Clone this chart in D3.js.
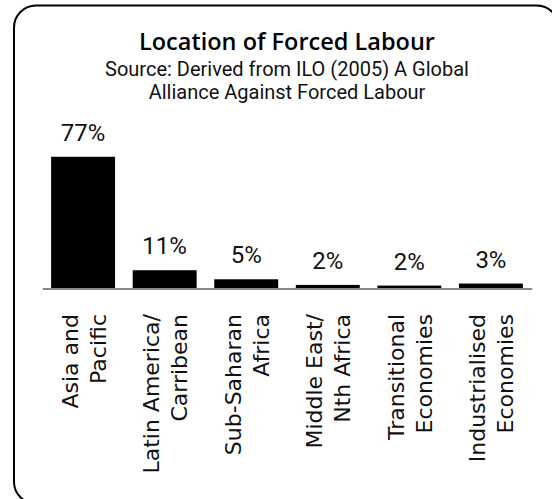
<!DOCTYPE html>
<html><head><meta charset="utf-8">
<script src="https://cdn.jsdelivr.net/npm/d3@7"></script>
<style>html,body{margin:0;padding:0;background:#fff;overflow:hidden;width:552px;height:499px}svg{display:block;overflow:hidden}</style>
</head><body>
<svg id="chart" width="552" height="499" viewBox="0 0 552 499"></svg>
<script>
const categories = ["Asia and|Pacific","Latin America/|Carribean","Sub-Saharan|Africa","Middle East/|Nth Africa","Transitional|Economies","Industrialised|Economies"];
const values = [77.2, 10.7, 5.4, 2.1, 1.7, 2.9];
const valueLabels = ["77%","11%","5%","2%","2%","3%"];
const titleText = "Location of Forced Labour";
const subtitleLines = ["Source: Derived from ILO (2005) A Global","Alliance Against Forced Labour"];

const svg = d3.select("#chart");

// frame: left and top edges with rounded corners; right and bottom edges run off the canvas
const r = 22, L = 14, T = 5.5, R = 558.7, B = 503.7;
const framePath = d3.path();
framePath.moveTo(L + r, B);
framePath.arcTo(L, B, L, B - r, r);
framePath.lineTo(L, T + r);
framePath.arcTo(L, T, L + r, T, r);
framePath.lineTo(R - r, T);
framePath.arcTo(R, T, R, T + r, r);
framePath.lineTo(R, B - r);
svg.append("path").attr("d", framePath.toString())
  .attr("fill","none").attr("stroke","#000").attr("stroke-width",2);

const cx = 287;
svg.append("text").attr("x",cx).attr("y",50).attr("text-anchor","middle")
  .style("font-family","'Open Sans'").style("font-weight","600").style("font-size","23.5px")
  .text(titleText);
svg.selectAll("text.sub").data(subtitleLines).enter().append("text").attr("class","sub")
  .attr("x",cx).attr("y",(d,i)=>75.5+i*23.5).attr("text-anchor","middle")
  .style("font-family","Roboto").style("font-size","20px").attr("fill","#111")
  .text(d=>d);

const x = d3.scaleBand().domain(categories).range([42.3,531.7]).paddingInner(0.216).paddingOuter(0.108);
const y = d3.scaleLinear().domain([0,80]).range([288.5,152]);

const data = categories.map((c,i)=>({c, v:values[i], l:valueLabels[i]}));

svg.selectAll("rect.bar").data(data).enter().append("rect").attr("class","bar")
  .attr("x",d=>x(d.c)).attr("width",x.bandwidth())
  .attr("y",d=>y(d.v)).attr("height",d=>y(0)-y(d.v)).attr("fill","#000");

svg.selectAll("text.val").data(data).enter().append("text").attr("class","val")
  .attr("x",d=>x(d.c)+x.bandwidth()/2).attr("y",d=>y(d.v)-16)
  .attr("text-anchor","middle")
  .style("font-family","Roboto").style("font-size","24px").attr("fill","#111")
  .text(d=>d.l);

const axis = svg.append("g").attr("transform","translate(0,288.5)")
  .call(d3.axisBottom(x).tickSize(0).tickSizeOuter(0).tickFormat(""));
axis.select(".domain").attr("stroke","#888").attr("stroke-width",2);

const lab = svg.selectAll("text.cat").data(data).enter().append("text").attr("class","cat")
  .attr("transform",d=>`translate(${x(d.c)+x.bandwidth()/2},314) rotate(-90)`)
  .attr("text-anchor","end")
  .style("font-family","DejaVu Sans").style("font-size","22px").attr("fill","#111");
lab.selectAll("tspan").data(d=>d.c.split("|")).enter().append("tspan")
  .attr("x",0).attr("y",(d,i)=>-5.5+i*28).text(d=>d);
</script>
</body></html>
